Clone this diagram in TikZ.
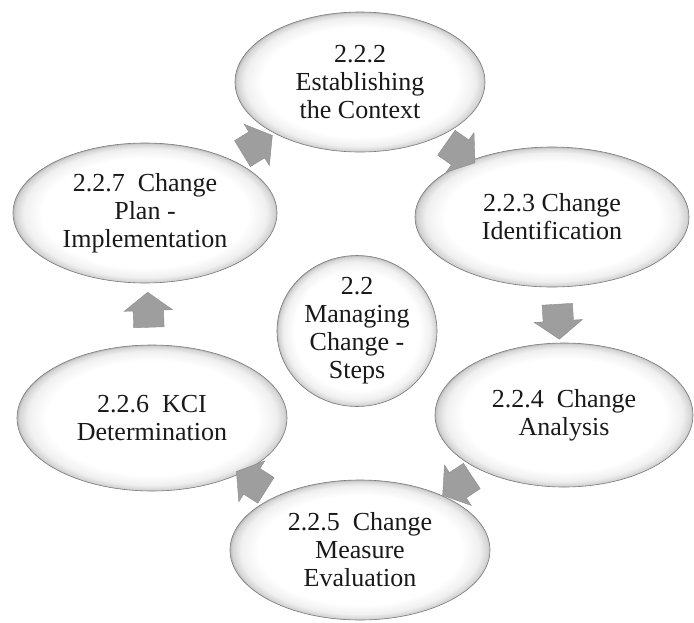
\documentclass[tikz,border=0pt]{standalone}
\usepackage{fontspec}
\setmainfont{Liberation Serif}
\usetikzlibrary{shapes.geometric,shapes.arrows}
% white face fading into a thin grey rim at the border
\pgfdeclareradialshading{rimglow}{\pgfpoint{0bp}{0bp}}{color(0bp)=(white); color(19.5bp)=(white); color(23bp)=(black!6); color(24.6bp)=(black!17); color(25bp)=(black!28); color(50bp)=(black!28)}
\begin{document}
\begin{tikzpicture}[x=1pt,y=-1pt,
  stage/.style={ellipse, draw=black!52, line width=0.6pt, shading=rimglow,
    inner sep=0pt, align=center, font=\fontsize{26}{28}\selectfont, text=black!90},
  flow/.style={single arrow, draw=black!45, fill=black!38, line width=0.4pt,
    minimum height=35pt, inner xsep=0pt, inner ysep=15pt,
    single arrow head extend=9pt, single arrow tip angle=106,
    sloped, allow upside down}]
\useasboundingbox (0,0) rectangle (694,622);

% the six steps around the cycle
\node[stage, minimum width=250pt, minimum height=140pt] (s2) at (360,82) {2.2.2\\Establishing\\the Context};
\node[stage, minimum width=274pt, minimum height=140pt] (s3) at (552,217) {2.2.3 Change\\Identification};
\node[stage, minimum width=258pt, minimum height=144pt] (s4) at (564,415) {2.2.4\ \ Change\\Analysis};
\node[stage, minimum width=260pt, minimum height=140pt] (s5) at (360,550) {2.2.5\ \ Change\\Measure\\Evaluation};
\node[stage, minimum width=270pt, minimum height=146pt] (s6) at (152,418) {2.2.6\ \ KCI\\Determination};
\node[stage, minimum width=264pt, minimum height=140pt] (s7) at (145,213) {2.2.7\ \ Change\\Plan -\\Implementation};

% hub
\node[stage, minimum width=160pt, minimum height=148pt] (hub) at (357,331) {2.2\\Managing\\Change -\\Steps};

% block arrows between consecutive steps
\path (s2.center) -- node[flow] (f23) {} (s3.center);
\path (s3.center) -- node[flow] (f34) {} (s4.center);
\path (s4.center) -- node[flow] (f45) {} (s5.center);
\path (s5.center) -- node[flow] (f56) {} (s6.center);
\path (s6.center) -- node[flow] (f67) {} (s7.center);
\path (s7.center) -- node[flow] (f72) {} (s2.center);
\end{tikzpicture}
\end{document}
